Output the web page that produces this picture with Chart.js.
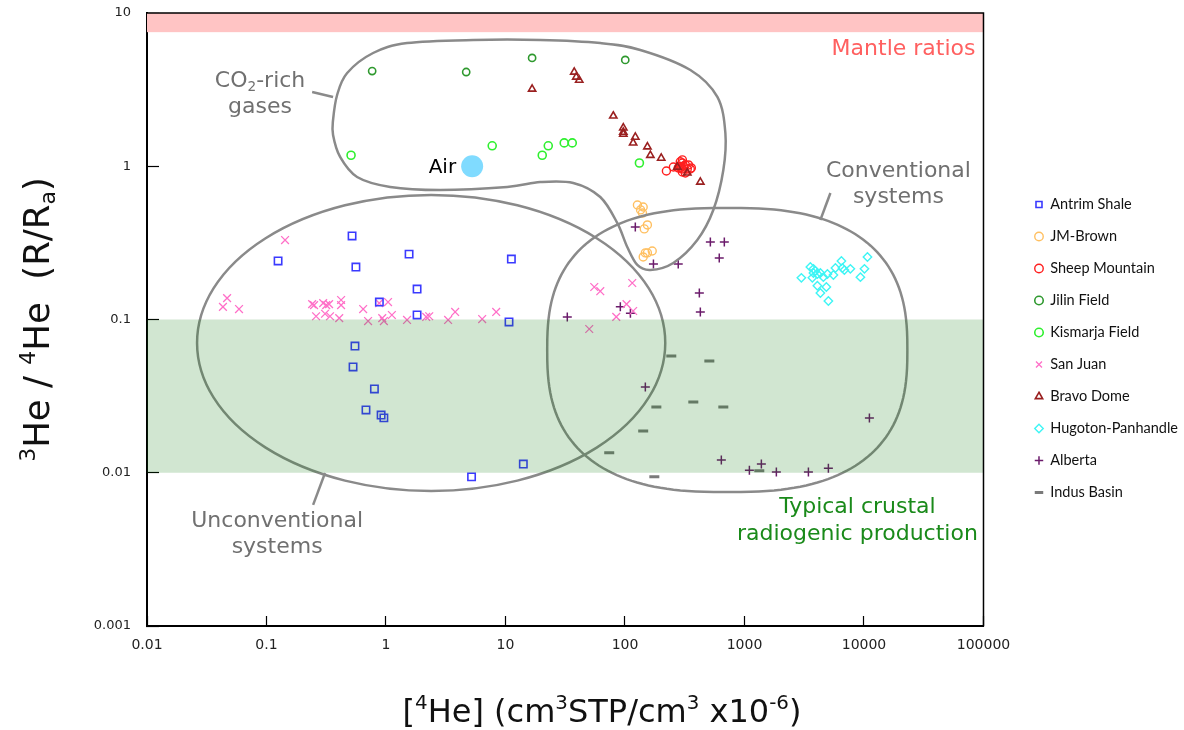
<!DOCTYPE html>
<html>
<head>
<meta charset="utf-8">
<title>Helium isotopes in natural gases</title>
<script src="https://cdn.jsdelivr.net/npm/chart.js@4.4.1/dist/chart.umd.min.js"></script>
<style>
  body { margin: 0; background: #fff; }
</style>
</head>
<body>
<canvas id="he-chart" width="1184" height="730"></canvas>
<script>
// [4He] (x) and 3He/4He in R/Ra (y) for each gas field
const antrimShale = [[0.125,0.241],[0.52,0.351],[0.56,0.220],[1.56,0.267],[1.82,0.158],[11.2,0.248],[0.88,0.130],[1.82,0.107],[10.7,0.0964],[0.55,0.0671],[0.53,0.049],[0.80,0.0352],[0.68,0.0257],[0.91,0.0238],[0.96,0.0228],[14.1,0.0114],[5.2,0.0094]];
const jmBrown = [[127,0.559],[142,0.542],[135,0.519],[140,0.495],[154,0.414],[145,0.390],[148,0.272],[169,0.280],[142,0.256],[154,0.272]];
const sheepMountain = [[222,0.931],[254,0.989],[290,1.07],[302,1.10],[302,1.05],[320,1.02],[332,0.959],[302,0.917],[279,0.975],[352,0.959],[359,0.975],[320,0.904],[290,0.975],[310,1.0],[340,1.02],[300,0.96],[285,1.0]];
const jilinField = [[0.766,4.18],[4.69,4.12],[16.7,5.09],[100.5,4.94]];
const kismarjaField = [[0.51,1.18],[7.74,1.36],[22.8,1.36],[20.3,1.18],[31.0,1.42],[36.2,1.42],[132,1.05]];
const sanJuan = [[0.143,0.330],[0.0468,0.138],[0.0432,0.121],[0.0589,0.117],[0.241,0.126],[0.250,0.124],[0.298,0.128],[0.316,0.124],[0.334,0.126],[0.421,0.134],[0.421,0.124],[0.260,0.105],[0.309,0.109],[0.340,0.105],[0.406,0.102],[0.644,0.117],[0.877,0.128],[1.04,0.130],[0.708,0.0977],[0.93,0.102],[0.96,0.0977],[1.12,0.107],[1.50,0.0993],[2.17,0.104],[2.30,0.105],[3.31,0.0993],[3.79,0.112],[6.38,0.1007],[8.36,0.112],[55.3,0.163],[62.1,0.153],[115,0.173],[103,0.126],[117,0.1136],[84.5,0.104],[50.2,0.0867]];
const bravoDome = [[16.7,3.19],[37.6,4.12],[39.1,3.82],[41.4,3.65],[79.8,2.13],[96.8,1.78],[96.8,1.67],[96.8,1.62],[122,1.55],[117,1.42],[154,1.34],[163,1.18],[201,1.13],[274,0.989],[332,0.904],[427,0.789]];
const hugotonPanhandle = [[2992,0.187],[3557,0.220],[3776,0.214],[3918,0.207],[3776,0.201],[4074,0.198],[4315,0.201],[3698,0.187],[4571,0.189],[4943,0.198],[5546,0.195],[5765,0.217],[6471,0.241],[6592,0.217],[6854,0.210],[7691,0.214],[10690,0.256],[10090,0.214],[9333,0.189],[4074,0.166],[4842,0.163],[4315,0.149],[5035,0.132]];
const alberta = [[122,0.402],[518,0.321],[678,0.321],[615,0.252],[173,0.230],[279,0.230],[419,0.149],[427,0.112],[32.9,0.104],[91.4,0.121],[111,0.110],[148,0.0363],[11100,0.0228],[640,0.0121],[1099,0.0104],[1384,0.0114],[1848,0.0101],[3427,0.0101],[5035,0.0107]];
const indusBasin = [[244,0.0578],[508,0.0536],[183,0.0269],[373,0.0290],[665,0.0269],[142,0.0187],[73.8,0.0135],[1330,0.0103],[176,0.0094]];
const air = [[5.26, 1.0]];

const xTickValues = [0.01, 0.1, 1, 10, 100, 1000, 10000, 100000];
const xTickLabels = ['0.01', '0.1', '1', '10', '100', '1000', '10000', '100000'];
const yTickValues = [0.001, 0.01, 0.1, 1, 10];
const yTickLabels = ['0.001', '0.01', '0.1', '1', '10'];

// shaded reference ranges of R/Ra
const mantleRange = [7.5, 10];
const crustalRange = [0.01, 0.1];

// field outlines, in log10 units of x and y
const co2Outline = [[-0.443,0.302],[-0.409,0.465],[-0.325,0.6085],[-0.108,0.739],[0.177,0.804],[0.730,0.824],[1.291,0.824],[1.793,0.804],[2.128,0.759],[2.547,0.628],[2.773,0.452],[2.840,0.217],[2.823,-0.0245],[2.739,-0.2855],[2.605,-0.481],[2.404,-0.631],[2.212,-0.677],[2.103,-0.644],[2.019,-0.527],[1.935,-0.370],[1.793,-0.2007],[1.567,-0.109],[1.291,-0.103],[1.014,-0.135],[0.453,-0.155],[0.035,-0.135],[-0.242,-0.070],[-0.384,0.0604],[-0.443,0.204]];
const unconventionalOutline = { center: [0.378, -1.153], radius: [1.959, 0.966] };
const conventionalOutline = { center: [2.856, -1.199], radius: [1.507, 0.927], power: 2.6 };
const leaders = [
  [[-0.618, 0.4845], [-0.443, 0.452]],
  [[3.635, -0.351], [3.719, -0.1746]],
  [[-0.510, -2.0016], [-0.610, -2.210]]
];

function series(label, points, pointStyle, color, radius, width) {
  return {
    label: label,
    data: points.map(p => ({ x: p[0], y: p[1] })),
    pointStyle: pointStyle,
    pointRadius: radius,
    pointBorderWidth: width,
    borderColor: color,
    pointBorderColor: color,
    backgroundColor: 'rgba(0,0,0,0)',
    pointBackgroundColor: 'rgba(0,0,0,0)',
    order: 1
  };
}

const datasets = [
  series('Antrim Shale', antrimShale, 'rect', '#3a3aff', 5.2, 1.6),
  series('JM-Brown', jmBrown, 'circle', '#ffc062', 4, 1.4),
  series('Sheep Mountain', sheepMountain, 'circle', '#ff1f1f', 4, 1.4),
  series('Jilin Field', jilinField, 'circle', '#2f992f', 3.6, 1.6),
  series('Kismarja Field', kismarjaField, 'circle', '#2ff02f', 4, 1.6),
  series('San Juan', sanJuan, 'crossRot', '#ff70c8', 5.5, 1.3),
  series('Bravo Dome', bravoDome, 'triangle', '#9a2020', 4.2, 1.6),
  series('Hugoton-Panhandle', hugotonPanhandle, 'rectRot', '#3ff5f5', 4.2, 1.4),
  series('Alberta', alberta, 'cross', '#6b1b6b', 4.5, 1.5),
  series('Indus Basin', indusBasin, 'line', '#7a7a7a', 5, 3),
  {
    label: 'Air',
    data: air.map(p => ({ x: p[0], y: p[1] })),
    pointStyle: 'circle',
    pointRadius: 11,
    pointBorderWidth: 0,
    pointBackgroundColor: '#80dbff',
    backgroundColor: '#80dbff',
    order: 2
  }
];
// triangles sit on top of the Sheep Mountain circles
datasets[6].order = 0;

const FONT = "'DejaVu Sans', sans-serif";

// text with superscripts (1) and subscripts (-1)
function drawRich(ctx, parts, x, y, size, align) {
  const fontFor = s => (s ? size * 0.62 : size) + 'px ' + FONT;
  const widths = parts.map(([t, s]) => { ctx.font = fontFor(s); return ctx.measureText(t).width; });
  const total = widths.reduce((a, b) => a + b, 0);
  let cx = align === 'center' ? x - total / 2 : align === 'right' ? x - total : x;
  ctx.textAlign = 'left';
  ctx.textBaseline = 'alphabetic';
  parts.forEach(([t, s], i) => {
    ctx.font = fontFor(s);
    const dy = s === 1 ? -size * 0.4 : s === -1 ? size * 0.18 : 0;
    ctx.fillText(t, cx, y + dy);
    cx += widths[i];
  });
}

function smoothClosed(ctx, pts) {
  const n = pts.length;
  ctx.moveTo(pts[0][0], pts[0][1]);
  for (let i = 0; i < n; i++) {
    const p0 = pts[(i - 1 + n) % n], p1 = pts[i], p2 = pts[(i + 1) % n], p3 = pts[(i + 2) % n];
    ctx.bezierCurveTo(
      p1[0] + (p2[0] - p0[0]) / 6, p1[1] + (p2[1] - p0[1]) / 6,
      p2[0] - (p3[0] - p1[0]) / 6, p2[1] - (p3[1] - p1[1]) / 6,
      p2[0], p2[1]);
  }
  ctx.closePath();
}

const overlay = {
  id: 'overlay',
  afterDatasetsDraw(chart) {
    const { ctx, chartArea: area } = chart;
    const xs = chart.scales.x, ys = chart.scales.y;
    const px = lx => xs.getPixelForValue(Math.pow(10, lx));
    const py = ly => ys.getPixelForValue(Math.pow(10, ly));

    ctx.save();
    ctx.beginPath();
    ctx.rect(area.left, area.top, area.width, area.height);
    ctx.clip();

    // outlines
    ctx.strokeStyle = '#8a8a8a';
    ctx.lineWidth = 2.5;
    ctx.beginPath();
    smoothClosed(ctx, co2Outline.map(p => [px(p[0]), py(p[1])]));
    ctx.stroke();

    const u = unconventionalOutline;
    const ucx = px(u.center[0]), ucy = py(u.center[1]);
    ctx.beginPath();
    ctx.ellipse(ucx, ucy, px(u.center[0] + u.radius[0]) - ucx, ucy - py(u.center[1] + u.radius[1]), 0, 0, Math.PI * 2);
    ctx.stroke();

    const c = conventionalOutline;
    const ccx = px(c.center[0]), ccy = py(c.center[1]);
    const crx = px(c.center[0] + c.radius[0]) - ccx, cry = ccy - py(c.center[1] + c.radius[1]);
    ctx.beginPath();
    for (let i = 0; i <= 180; i++) {
      const t = i / 180 * Math.PI * 2;
      const cs = Math.cos(t), sn = Math.sin(t);
      const x = ccx + crx * Math.sign(cs) * Math.pow(Math.abs(cs), 2 / c.power);
      const y = ccy + cry * Math.sign(sn) * Math.pow(Math.abs(sn), 2 / c.power);
      if (i === 0) ctx.moveTo(x, y); else ctx.lineTo(x, y);
    }
    ctx.closePath();
    ctx.stroke();

    leaders.forEach(([a, b]) => {
      ctx.beginPath();
      ctx.moveTo(px(a[0]), py(a[1]));
      ctx.lineTo(px(b[0]), py(b[1]));
      ctx.stroke();
    });

    // reference bands
    ctx.fillStyle = 'rgba(10,120,10,0.19)';
    const gTop = ys.getPixelForValue(crustalRange[1]), gBot = ys.getPixelForValue(crustalRange[0]);
    ctx.fillRect(area.left, gTop, area.width, gBot - gTop);
    ctx.fillStyle = '#ffc4c4';
    const mTop = ys.getPixelForValue(mantleRange[1]), mBot = ys.getPixelForValue(mantleRange[0]);
    ctx.fillRect(area.left, mTop, area.width, mBot - mTop);
    ctx.restore();

    // frame
    ctx.save();
    ctx.strokeStyle = '#000';
    ctx.lineWidth = 1.5;
    ctx.beginPath();
    ctx.moveTo(area.left, area.top);
    ctx.lineTo(area.right, area.top);
    ctx.lineTo(area.right, area.bottom);
    ctx.stroke();

    // labels
    ctx.fillStyle = '#ff6060';
    drawRich(ctx, [['Mantle ratios', 0]], px(4.933), py(0.726), 22, 'right');
    ctx.fillStyle = '#707070';
    drawRich(ctx, [['CO', 0], ['2', -1], ['-rich', 0]], px(-1.054), py(0.517), 22, 'center');
    drawRich(ctx, [['gases', 0]], px(-1.054), py(0.347), 22, 'center');
    drawRich(ctx, [['Conventional', 0]], px(4.288), py(-0.070), 22, 'center');
    drawRich(ctx, [['systems', 0]], px(4.288), py(-0.240), 22, 'center');
    drawRich(ctx, [['Unconventional', 0]], px(-0.911), py(-2.354), 22, 'center');
    drawRich(ctx, [['systems', 0]], px(-0.911), py(-2.524), 22, 'center');
    ctx.fillStyle = '#1a8a1a';
    drawRich(ctx, [['Typical crustal', 0]], px(3.945), py(-2.263), 22, 'center');
    drawRich(ctx, [['radiogenic production', 0]], px(3.945), py(-2.439), 22, 'center');
    ctx.fillStyle = '#000';
    const airPx = xs.getPixelForValue(air[0][0]), airPy = ys.getPixelForValue(air[0][1]);
    drawRich(ctx, [['Air', 0]], airPx - 16, airPy + 7, 20, 'right');

    // axis titles
    ctx.fillStyle = '#111';
    drawRich(ctx, [['[', 0], ['4', 1], ['He] (cm', 0], ['3', 1], ['STP/cm', 0], ['3', 1], [' x10', 0], ['-6', 1], [')', 0]],
      602, 722, 32, 'center');
    ctx.translate(37, (area.top + area.bottom) / 2);
    ctx.rotate(-Math.PI / 2);
    drawRich(ctx, [['3', 1], ['He / ', 0], ['4', 1], ['He  (R/R', 0], ['a', -1], [')', 0]], 0, 12, 35.5, 'center');
    ctx.restore();
  }
};

// place the legend column clear of the plot frame
const legendNudge = {
  id: 'legendNudge',
  afterLayout(chart) {
    const l = chart.legend;
    l.left += 34; l.right += 34;
    l.top -= 23; l.bottom -= 23;
  }
};

new Chart(document.getElementById('he-chart'), {
  type: 'scatter',
  data: { datasets: datasets },
  options: {
    responsive: false,
    animation: false,
    events: [],
    layout: { padding: { top: 13, right: 30, left: 0, bottom: 0 } },
    scales: {
      x: {
        type: 'logarithmic',
        min: 0.01,
        max: 100000,
        afterBuildTicks: s => { s.ticks = xTickValues.map(v => ({ value: v })); },
        afterFit: s => { s.height = 104; s.paddingLeft = 0; s.paddingRight = 0; },
        border: { color: '#000', width: 2 },
        grid: { drawOnChartArea: false, tickLength: -10, tickColor: '#000', tickWidth: 1.2 },
        ticks: {
          color: '#222',
          font: { family: FONT, size: 14 },
          padding: 21,
          maxRotation: 0,
          autoSkip: false,
          callback: (v, i) => xTickLabels[i]
        }
      },
      y: {
        type: 'logarithmic',
        min: 0.001,
        max: 10,
        afterBuildTicks: s => { s.ticks = yTickValues.map(v => ({ value: v })); },
        afterFit: s => { s.width = 147; s.paddingTop = 0; s.paddingBottom = 0; },
        border: { color: '#000', width: 2 },
        grid: { drawOnChartArea: false, tickLength: -12, tickColor: '#000', tickWidth: 1.2 },
        ticks: {
          color: '#222',
          font: { family: FONT, size: 13 },
          padding: 28,
          autoSkip: false,
          callback: (v, i) => yTickLabels[i]
        }
      }
    },
    plugins: {
      tooltip: { enabled: false },
      legend: {
        position: 'right',
        labels: {
          usePointStyle: true,
          boxWidth: 8,
          boxHeight: 6,
          padding: 17.5,
          color: '#111',
          font: { family: 'Lato', size: 14.5 },
          filter: item => item.text !== 'Air',
          sort: (a, b) => a.datasetIndex - b.datasetIndex
        }
      }
    }
  },
  plugins: [overlay, legendNudge]
});
</script>
</body>
</html>
